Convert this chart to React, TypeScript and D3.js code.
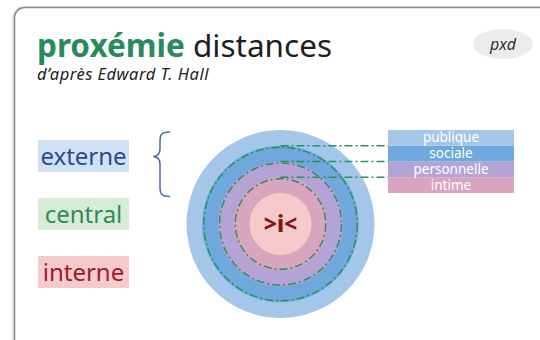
import React from "react";
import * as d3 from "d3";

// ---- data ----
const zoneNames = ["intime", "personnelle", "sociale", "publique"];
const zoneColors = ["#d9a4bd", "#b4a3d4", "#6ea8dc", "#a3c6e9"];
const coreColor = "#f5caca";
const coreLabel = ">i<";
const groupLabels = ["externe", "central", "interne"];
const groupText = ["#2c4a8c", "#2e8a5c", "#a0192c"];
const groupBg = ["#cfe2f4", "#d7ecd6", "#f5cacd"];
const titleBold = "proxémie";
const titleRest = " distances";
const subtitle = "d’après Edward T. Hall";
const badge = "pxd";

const W = 540;
const H = 340;
const FONT = "'Noto Sans', 'Open Sans', sans-serif";

export default function App() {
  const cx = 280.5;
  const cy = 224;
  // ring index (0 = core edge, 4 = outer edge) -> radius
  const r = d3.scaleLinear().domain([0, zoneNames.length]).range([31, 94]);
  const legendX0 = 388;
  const legendX1 = 514;
  const groupY = d3.scalePoint<number>().domain([0, 1, 2]).range([140, 256]);
  const groupBoxH = 32;
  const dash = "8 3 2 3";

  return (
    <svg
      width={W}
      height={H}
      style={{ position: "fixed", left: 0, top: 0, background: "#fff" }}
      fontFamily={FONT}
    >
      <defs>
        <filter id="sh" x="-5%" y="-5%" width="110%" height="110%">
          <feGaussianBlur stdDeviation="0.8" />
        </filter>
      </defs>
      {/* card */}
      <rect x={14.5} y={8} width={600} height={400} rx={10} fill="#fff" stroke="#c8c8c8" strokeWidth={2.5} filter="url(#sh)" />
      <rect x={14.5} y={7.5} width={600} height={400} rx={10} fill="#fff" stroke="#8a8a8a" strokeWidth={1.5} />

      {/* title */}
      <text x={37} y={57} fontSize={31.5} fill="#1e1e1e">
        <tspan fontWeight={700} fill="#2a8a5e">{titleBold}</tspan>
        <tspan>{titleRest}</tspan>
      </text>
      <text x={37} y={80} fontSize={16.5} letterSpacing={0.5} fontStyle="italic" fill="#222">{subtitle}</text>

      {/* badge */}
      <ellipse cx={503} cy={44} rx={30} ry={15} fill="#ececec" />
      <text x={503} y={50} fontSize={16} fontStyle="italic" textAnchor="middle" fill="#333">{badge}</text>

      {/* group labels */}
      {groupLabels.map((g, i) => {
        const y = groupY(i) as number;
        return (
          <g key={g}>
            <rect x={38} y={y} width={91} height={groupBoxH} fill={groupBg[i]} />
            <text x={83.5} y={y + 25} fontSize={24} textAnchor="middle" fill={groupText[i]}>{g}</text>
          </g>
        );
      })}

      {/* brace */}
      <path
        d={`M170,132 C160,132 160,136 160,142 L160,149 C160,154 158,156 153.5,156.5 C158,157 160,159 160,164 L160,188 C160,194 162,196.5 170,196.5`}
        fill="none"
        stroke="#4b6aa3"
        strokeWidth={1.5}
      />

      {/* rings */}
      {zoneNames
        .map((z, i) => ({ z, i }))
        .reverse()
        .map(({ z, i }) => (
          <circle key={z} cx={cx} cy={cy} r={r(i + 1)} fill={zoneColors[i]} />
        ))}
      <circle cx={cx} cy={cy} r={r(0)} fill={coreColor} />
      <text x={cx} y={cy + 8} fontSize={23} fontWeight={800} textAnchor="middle" fill="#8b1313">{coreLabel}</text>

      {/* dashed boundaries */}
      {zoneNames.slice(0, 3).map((z, i) => (
        <circle key={"d" + z} cx={cx} cy={cy} r={r(i + 1) - 1.5} fill="none" stroke="#2e8b62" strokeWidth={1.5} strokeDasharray={dash} />
      ))}
      {zoneNames.slice(0, 3).map((z, i) => (
        <line key={"l" + z} x1={cx} x2={legendX0} y1={cy - r(i + 1)} y2={cy - r(i + 1)} stroke="#2e8b62" strokeWidth={1.5} strokeDasharray={dash} />
      ))}

      {/* legend */}
      {zoneNames.map((z, i) => {
        const yTop = cy - r(i + 1);
        const yBot = cy - r(i);
        return (
          <g key={"lg" + z}>
            <rect x={legendX0} y={yTop} width={legendX1 - legendX0} height={yBot - yTop} fill={zoneColors[i]} />
            <text x={(legendX0 + legendX1) / 2} y={yBot - 3.5} fontSize={13.5} textAnchor="middle" fill="#fff">{z}</text>
          </g>
        );
      })}
    </svg>
  );
}
